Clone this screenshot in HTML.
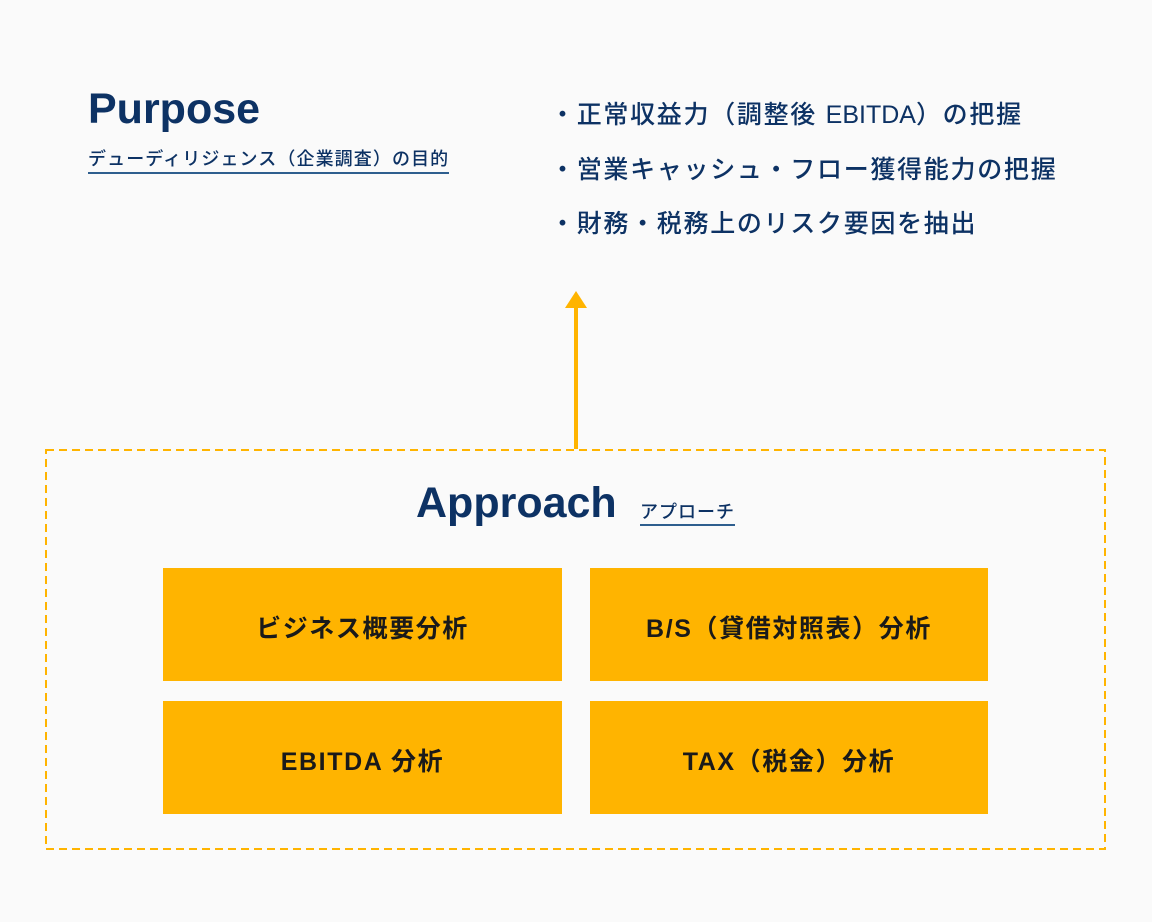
<!DOCTYPE html>
<html><head><meta charset="utf-8"><style>
body{margin:0;width:1152px;height:922px;background:#fafafa;position:relative;overflow:hidden;font-family:"Liberation Sans","Noto Sans CJK JP",sans-serif;}
.a{position:absolute;white-space:nowrap;}
.navy{color:#0d3264;}
.box{position:absolute;background:#ffb400;display:flex;align-items:center;justify-content:center;font-weight:bold;font-size:25px;letter-spacing:1.6px;color:#1a1a1a;padding-top:4px;box-sizing:border-box;}
</style></head><body>
<div class="a navy" style="left:88px;top:85px;font-size:43px;font-weight:bold;">Purpose</div>
<div class="a navy" style="left:88px;top:147px;font-size:18px;letter-spacing:1.1px;border-bottom:2px solid #2e5e8e;padding-bottom:1px;line-height:24px;font-weight:500;">デューディリジェンス（企業調査）の目的</div>
<div class="a navy" style="left:550px;top:88px;font-size:25px;letter-spacing:1.7px;line-height:54.5px;font-weight:500;">・正常収益力（調整後 <span style="letter-spacing:0">EBITDA</span>）の把握<br>・営業キャッシュ・フロー獲得能力の把握<br>・財務・税務上のリスク要因を抽出</div>
<svg class="a" style="left:0;top:0" width="1152" height="922">
<rect x="46" y="450" width="1059" height="399" fill="none" stroke="#ffb400" stroke-width="2" stroke-dasharray="8 5"/>
<rect x="574" y="306" width="4" height="143" fill="#ffb400"/>
<polygon points="576,291 565,308 587,308" fill="#ffb400"/>
</svg>
<div class="a navy" style="left:416px;top:479px;font-size:43px;font-weight:bold;">Approach</div>
<div class="a navy" style="left:640px;top:500px;font-size:18px;letter-spacing:1px;border-bottom:2px solid #2e5e8e;line-height:24px;font-weight:500;">アプローチ</div>
<div class="box" style="left:163px;top:568px;width:399px;height:113px;">ビジネス概要分析</div>
<div class="box" style="left:590px;top:568px;width:398px;height:113px;">B/S（貸借対照表）分析</div>
<div class="box" style="left:163px;top:701px;width:399px;height:113px;">EBITDA 分析</div>
<div class="box" style="left:590px;top:701px;width:398px;height:113px;">TAX（税金）分析</div>
</body></html>
